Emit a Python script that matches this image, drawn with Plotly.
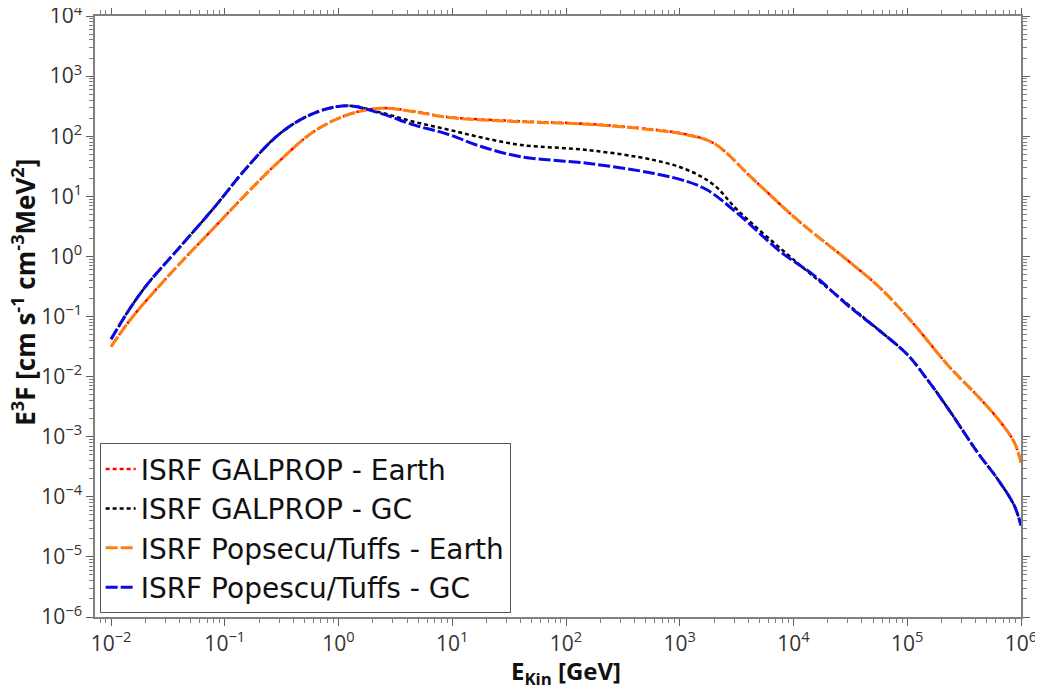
import plotly.graph_objects as go

# ---- data ----
E_pop_earth = [0.01, 0.0147, 0.0206, 0.0405, 0.0796, 0.156, 0.308, 0.604, 1.19, 2.33, 4.58, 9.0,
               40, 154, 594, 1170, 2000, 4500, 10900, 29900, 58700, 116000, 227000, 447000,
               670000, 877000, 1000000]
F_pop_earth = [0.0315, 0.0875, 0.188, 0.77, 2.94, 11.2, 40, 119, 225, 291, 256, 206,
               174, 158, 127, 105, 76, 18.7, 4.0, 0.86, 0.29, 0.072, 0.0156, 0.0041,
               0.00169, 0.00079, 0.00037]

E_gal_earth = [0.01, 0.0147, 0.0206, 0.0405, 0.0796, 0.156, 0.308, 0.604, 1.19, 2.33, 4.58, 9.0,
               40, 154, 594, 1170, 2000, 4500, 10900, 29900, 58700, 116000, 227000, 447000,
               670000, 877000, 1000000]
F_gal_earth = [0.0315, 0.0875, 0.188, 0.77, 2.94, 11.2, 40, 119, 226, 293, 259, 209,
               177, 160, 129, 106, 76, 18.7, 4.0, 0.86, 0.29, 0.072, 0.0156, 0.0041,
               0.00169, 0.00079, 0.00037]

E_pop_gc = [0.01, 0.0147, 0.0206, 0.0405, 0.0796, 0.156, 0.308, 0.604, 1.19, 2.33, 4.58, 9.0,
            17.7, 40, 154, 594, 1170, 1750, 3220, 7760, 15200, 29900, 58700, 101000, 151000,
            227000, 417000, 627000, 877000, 1000000]
F_pop_gc = [0.042, 0.137, 0.334, 1.45, 6.3, 30, 112, 240, 321, 240, 154, 109,
            68, 45.6, 35.4, 24, 17.5, 12.7, 5.2, 1.18, 0.48, 0.154, 0.0557, 0.0229, 0.0088,
            0.003, 0.00054, 0.000194, 0.00007, 0.000033]

E_gal_gc = [0.01, 0.0147, 0.0206, 0.0405, 0.0796, 0.156, 0.308, 0.604, 1.19, 2.33, 4.58, 9.0,
            17.7, 40, 154, 594, 1170, 2000, 3220, 10900, 29900, 58700, 101000, 151000,
            227000, 417000, 627000, 877000, 1000000]
F_gal_gc = [0.042, 0.137, 0.334, 1.45, 6.3, 30, 112, 240, 321, 248, 174, 130,
            96, 71.5, 59, 40, 27.4, 15.4, 5.9, 0.77, 0.16, 0.0557, 0.0229, 0.0088,
            0.003, 0.00054, 0.000194, 0.00007, 0.000033]

names = ["ISRF GALPROP - Earth", "ISRF GALPROP - GC",
         "ISRF Popsecu/Tuffs - Earth", "ISRF Popescu/Tuffs - GC"]

x_exponents = [-2, -1, 0, 1, 2, 3, 4, 5, 6]
y_exponents = [-6, -5, -4, -3, -2, -1, 0, 1, 2, 3, 4]

x_title = "<b>E<sub>Kin</sub> [GeV]</b>"
y_title = "<b>E<sup>3</sup>F [cm s<sup>-1</sup> cm<sup>-3</sup>MeV<sup>2</sup>]</b>"


def power_labels(exps):
    return ["10<sup>" + str(k).replace("-", "\u2212") + "</sup>" for k in exps]


FONT = "Open Sans"
fig = go.Figure()

fig.add_trace(go.Scatter(x=E_gal_earth, y=F_gal_earth, mode="lines", name=names[0],
                         line=dict(color="#ff0000", width=2.5, dash="4px,3px", shape="spline")))
fig.add_trace(go.Scatter(x=E_gal_gc, y=F_gal_gc, mode="lines", name=names[1],
                         line=dict(color="#000000", width=2.5, dash="4px,3px", shape="spline")))
fig.add_trace(go.Scatter(x=E_pop_earth, y=F_pop_earth, mode="lines", name=names[2],
                         line=dict(color="#ff7f0e", width=3, dash="12px,3px", shape="spline")))
fig.add_trace(go.Scatter(x=E_pop_gc, y=F_pop_gc, mode="lines", name=names[3],
                         line=dict(color="#0a0ae6", width=3, dash="12px,3px", shape="spline")))

axis_common = dict(
    type="log", showgrid=False, zeroline=False, automargin=False,
    showline=True, linecolor="#808080", linewidth=1.5, mirror="allticks",
    ticks="outside", ticklen=7, tickwidth=1, tickcolor="#606060",
    minor=dict(ticks="outside", ticklen=4, tickwidth=1, tickcolor="#808080", dtick="D1"),
    tickfont=dict(family=FONT, size=21, color="#333333"),
    ticklabeloverflow="allow",
)

fig.update_xaxes(**axis_common, range=[-2.141, 6.0],
                 tickvals=[10.0 ** k for k in x_exponents], ticktext=power_labels(x_exponents))
fig.update_yaxes(**axis_common, range=[-6, 4],
                 tickvals=[10.0 ** k for k in y_exponents], ticktext=power_labels(y_exponents))

fig.add_annotation(text=x_title, xref="paper", yref="paper", x=0.5086, y=-0.091,
                   xanchor="center", yanchor="middle", showarrow=False,
                   font=dict(family=FONT, size=24, color="#111111"))
fig.add_annotation(text=y_title, xref="paper", yref="paper", x=-0.0767, y=0.541,
                   xanchor="center", yanchor="middle", showarrow=False, textangle=-90,
                   font=dict(family=FONT, size=26, color="#111111"))

# the page body adds an 8 px offset, so the figure is sized to fit the 1043x690 window
fig.update_layout(
    width=1035, height=682,
    margin=dict(l=87, r=22, t=8, b=73),
    paper_bgcolor="white", plot_bgcolor="white",
    showlegend=True,
    legend=dict(x=0.005, y=0.289, xanchor="left", yanchor="top",
                bgcolor="white", bordercolor="#555555", borderwidth=1,
                font=dict(family="DejaVu Sans", size=28, color="#111111"),
                itemwidth=30, tracegroupgap=0),
)

fig.write_html("out.html")
